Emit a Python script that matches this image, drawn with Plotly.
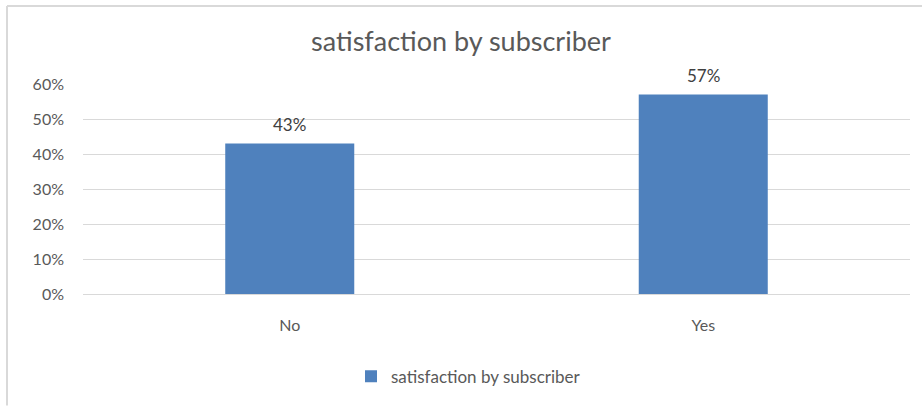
import plotly.graph_objects as go

categories = ["No", "Yes"]
values = [0.43, 0.57]
series_name = "satisfaction by subscriber"
title_text = "satisfaction by subscriber"
tick_vals = [0, 0.1, 0.2, 0.3, 0.4, 0.5, 0.6]

W, H = 922, 407
L, R, T, B = 83, 12, 84, 110
pw = W - L - R
ph = H - T - B

def py(page_y):
    return (297 - page_y) / ph

def px(page_x):
    return (page_x - L) / pw

font = "Lato, Carlito, sans-serif"

fig = go.Figure()
fig.add_trace(go.Bar(
    x=categories, y=values, name=series_name,
    marker=dict(color="#4F81BD", line=dict(width=0)),
    width=0.312, showlegend=True,
))

annotations = [dict(x=c, y=v, xref="x", yref="y", text=f"{round(v*100)}%",
                    showarrow=False, yanchor="bottom", yshift=7,
                    font=dict(family=font, size=17, color="#404040"))
               for c, v in zip(categories, values)]

border = "#D9D9D9"
fig.update_layout(
    width=W, height=H,
    margin=dict(l=L, r=R, t=T, b=B),
    paper_bgcolor="white", plot_bgcolor="white",
    title=dict(text=title_text, x=0.5, xanchor="center", y=1 - 42 / H, yanchor="middle",
               font=dict(family=font, size=27, color="#595959")),
    xaxis=dict(showgrid=False, showline=False, ticks="", zeroline=False,
               tickfont=dict(family=font, size=16, color="#595959"),
               ticklabelstandoff=20),
    yaxis=dict(range=[0, 0.6], tickvals=tick_vals, tickformat=".0%",
               showgrid=True, gridcolor="#D9D9D9", gridwidth=1,
               zeroline=True, zerolinecolor="#D9D9D9", zerolinewidth=1,
               showline=False, ticks="", ticklabelstandoff=18,
               tickfont=dict(family=font, size=16, color="#595959")),
    legend=dict(orientation="h", x=px(351), xanchor="left",
                y=py(381), yanchor="middle",
                font=dict(family=font, size=17, color="#595959"),
                itemwidth=30),
    bargap=0.688,
    annotations=annotations,
    shapes=[
        dict(type="line", xref="paper", yref="paper",
             x0=px(7), x1=px(925), y0=py(5), y1=py(5),
             line=dict(color=border, width=2)),
        dict(type="line", xref="paper", yref="paper",
             x0=px(7), x1=px(7), y0=py(5), y1=py(410),
             line=dict(color=border, width=2)),
    ],
)

fig.write_html("out.html", config={"displayModeBar": False},
               post_script="document.body.style.margin='0';document.body.style.overflow='hidden';")
